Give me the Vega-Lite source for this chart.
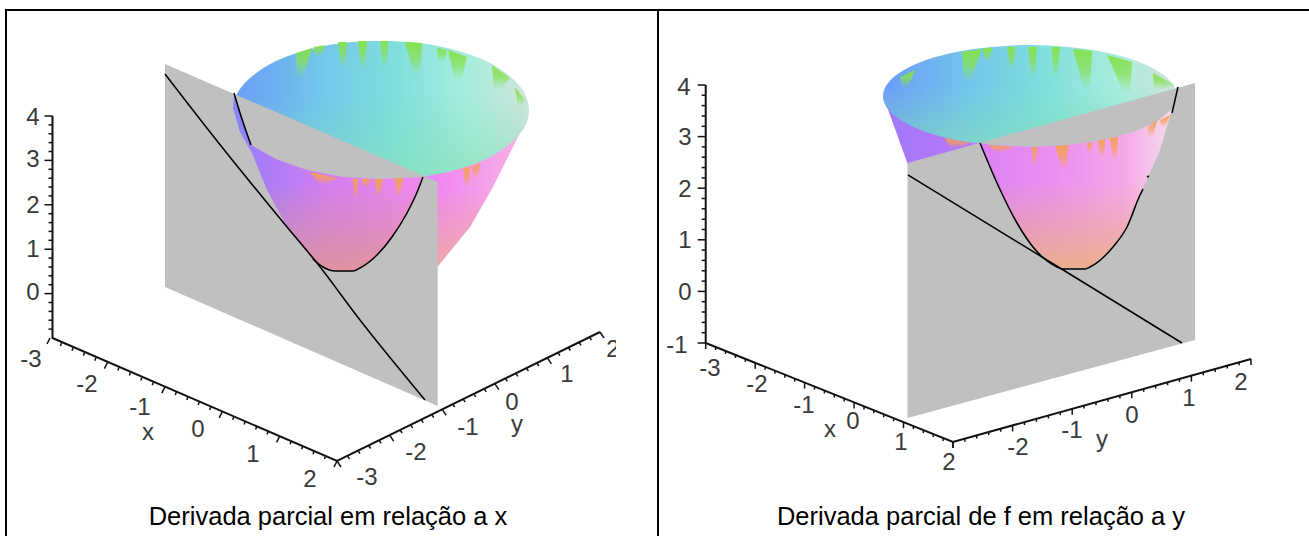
{
"$schema":"https://vega.github.io/schema/vega-lite/v6.json",
"width":1309,"height":536,"padding":0,"autosize":{"type":"none"},
"background":"#ffffff",
"config":{"view":{"stroke":null}},
"datasets":{
"wall":[
{"p":"L","x":233,"y":108},{"p":"L","x":240,"y":132},{"p":"L","x":252,"y":153},{"p":"L","x":267,"y":190},{"p":"L","x":287,"y":227},{"p":"L","x":313,"y":260},{"p":"L","x":335,"y":271},{"p":"L","x":353,"y":271},{"p":"L","x":438,"y":266},{"p":"L","x":470,"y":227},{"p":"L","x":493,"y":187},{"p":"L","x":520,"y":133},{"p":"L","x":529,"y":110},
{"p":"R","x":883,"y":96},{"p":"R","x":890,"y":115},{"p":"R","x":908,"y":165},{"p":"R","x":1033,"y":247},{"p":"R","x":1060,"y":269},{"p":"R","x":1090,"y":267},{"p":"R","x":1113,"y":247},{"p":"R","x":1127,"y":227},{"p":"R","x":1148,"y":177},{"p":"R","x":1172,"y":113},{"p":"R","x":1177,"y":96}
],
"rim":[
{"p":"L","x":529,"y":110},{"p":"L","x":524,"y":128},{"p":"L","x":509,"y":144.5},{"p":"L","x":486,"y":159},{"p":"L","x":455,"y":170},{"p":"L","x":419,"y":177},{"p":"L","x":381,"y":179},{"p":"L","x":343,"y":177},{"p":"L","x":307,"y":170},{"p":"L","x":276,"y":159},{"p":"L","x":253,"y":144.5},{"p":"L","x":238,"y":128},{"p":"L","x":233,"y":110},{"p":"L","x":238,"y":92},{"p":"L","x":253,"y":75.5},{"p":"L","x":276,"y":61},{"p":"L","x":307,"y":50},{"p":"L","x":343,"y":43},{"p":"L","x":381,"y":41},{"p":"L","x":419,"y":43},{"p":"L","x":455,"y":50},{"p":"L","x":486,"y":61},{"p":"L","x":509,"y":75.5},{"p":"L","x":524,"y":92},
{"p":"R","x":1177,"y":96},{"p":"R","x":1172,"y":109},{"p":"R","x":1157,"y":121.5},{"p":"R","x":1134,"y":132},{"p":"R","x":1103.5,"y":140},{"p":"R","x":1068,"y":145},{"p":"R","x":1030,"y":147},{"p":"R","x":992,"y":145},{"p":"R","x":956.5,"y":140},{"p":"R","x":926,"y":132},{"p":"R","x":903,"y":121.5},{"p":"R","x":888,"y":109},{"p":"R","x":883,"y":96},{"p":"R","x":888,"y":83},{"p":"R","x":903,"y":70.5},{"p":"R","x":926,"y":60},{"p":"R","x":956.5,"y":52},{"p":"R","x":992,"y":47},{"p":"R","x":1030,"y":45},{"p":"R","x":1068,"y":47},{"p":"R","x":1103.5,"y":52},{"p":"R","x":1134,"y":60},{"p":"R","x":1157,"y":70.5},{"p":"R","x":1172,"y":83}
],
"green":[
{"p":"a","x":296,"y":53},{"p":"a","x":312,"y":48},{"p":"a","x":303,"y":78},{"p":"a","x":297,"y":78},
{"p":"b","x":313,"y":47},{"p":"b","x":325,"y":45},{"p":"b","x":321,"y":57},{"p":"b","x":315,"y":57},
{"p":"c","x":338,"y":42},{"p":"c","x":347,"y":42},{"p":"c","x":345,"y":67},{"p":"c","x":341,"y":67},
{"p":"d","x":358,"y":41},{"p":"d","x":367,"y":41},{"p":"d","x":365,"y":70},{"p":"d","x":361,"y":70},
{"p":"e","x":380,"y":41},{"p":"e","x":388,"y":41},{"p":"e","x":387,"y":67},{"p":"e","x":383,"y":67},
{"p":"f","x":405,"y":42},{"p":"f","x":422,"y":43},{"p":"f","x":420,"y":75},{"p":"f","x":414,"y":75},
{"p":"g","x":437,"y":48},{"p":"g","x":447,"y":50},{"p":"g","x":445,"y":62},{"p":"g","x":439,"y":62},
{"p":"h","x":448,"y":50},{"p":"h","x":467,"y":57},{"p":"h","x":461,"y":80},{"p":"h","x":455,"y":80},
{"p":"i","x":492,"y":65},{"p":"i","x":510,"y":78},{"p":"i","x":500,"y":90},{"p":"i","x":494,"y":90},
{"p":"j","x":515,"y":87},{"p":"j","x":525,"y":100},{"p":"j","x":522,"y":107},{"p":"j","x":518,"y":107},
{"p":"k","x":900,"y":77},{"p":"k","x":915,"y":70},{"p":"k","x":908,"y":88},{"p":"k","x":902,"y":88},
{"p":"l","x":962,"y":52},{"p":"l","x":982,"y":49},{"p":"l","x":970,"y":82},{"p":"l","x":964,"y":82},
{"p":"m","x":983,"y":48},{"p":"m","x":992,"y":48},{"p":"m","x":989,"y":62},{"p":"m","x":985,"y":62},
{"p":"n","x":1007,"y":47},{"p":"n","x":1015,"y":47},{"p":"n","x":1014,"y":70},{"p":"n","x":1010,"y":70},
{"p":"o","x":1028,"y":47},{"p":"o","x":1037,"y":47},{"p":"o","x":1035,"y":77},{"p":"o","x":1031,"y":77},
{"p":"q","x":1052,"y":47},{"p":"q","x":1060,"y":47},{"p":"q","x":1057,"y":78},{"p":"q","x":1053,"y":78},
{"p":"r","x":1073,"y":49},{"p":"r","x":1092,"y":51},{"p":"r","x":1090,"y":90},{"p":"r","x":1084,"y":90},
{"p":"s","x":1107,"y":55},{"p":"s","x":1132,"y":62},{"p":"s","x":1130,"y":93},{"p":"s","x":1124,"y":93},
{"p":"t","x":1153,"y":73},{"p":"t","x":1175,"y":85},{"p":"t","x":1160,"y":90},{"p":"t","x":1154,"y":90}
],
"plane":[
{"p":"L","x":165,"y":64},{"p":"L","x":437.7,"y":182},{"p":"L","x":437.7,"y":406},{"p":"L","x":165,"y":287},
{"p":"R","x":907.5,"y":163},{"p":"R","x":1195,"y":83},{"p":"R","x":1195,"y":340},{"p":"R","x":907.5,"y":418}
],
"frontL":[
{"x":423,"y":177},{"x":418,"y":190},{"x":407,"y":213},{"x":392,"y":237},{"x":377,"y":255},{"x":360,"y":268},{"x":353,"y":271},{"x":335,"y":271},{"x":323,"y":267},{"x":313,"y":260},{"x":287,"y":227},{"x":267,"y":190},{"x":252,"y":153},{"x":240,"y":132},{"x":233,"y":108},{"x":234,"y":93},{"x":251,"y":145},{"x":276,"y":159},{"x":307,"y":170},{"x":343,"y":177},{"x":381,"y":179}
],
"frontR":[
{"x":980,"y":143},{"x":992,"y":145},{"x":1030,"y":147},{"x":1068,"y":145},{"x":1103.5,"y":140},{"x":1134,"y":132},{"x":1157,"y":121.5},{"x":1172,"y":109},{"x":1160,"y":150},{"x":1148,"y":177},{"x":1140,"y":195},{"x":1127,"y":227},{"x":1113,"y":247},{"x":1090,"y":267},{"x":1060,"y":269},{"x":1057,"y":267},{"x":1033,"y":247},{"x":1017,"y":223},{"x":997,"y":183}
],
"orange":[
{"p":"a","x":310,"y":172},{"p":"a","x":338,"y":178},{"p":"a","x":326,"y":185},{"p":"a","x":320,"y":185},
{"p":"b","x":353,"y":179},{"p":"b","x":358,"y":179},{"p":"b","x":357,"y":200},{"p":"b","x":354,"y":200},
{"p":"c","x":362,"y":179},{"p":"c","x":370,"y":179},{"p":"c","x":368,"y":187},{"p":"c","x":363,"y":187},
{"p":"d","x":375,"y":179},{"p":"d","x":383,"y":179},{"p":"d","x":380,"y":197},{"p":"d","x":376,"y":197},
{"p":"e","x":395,"y":178},{"p":"e","x":403,"y":178},{"p":"e","x":400,"y":197},{"p":"e","x":396,"y":197},
{"p":"f","x":463,"y":168},{"p":"f","x":470,"y":167},{"p":"f","x":469,"y":187},{"p":"f","x":465,"y":187},
{"p":"g","x":472,"y":167},{"p":"g","x":480,"y":163},{"p":"g","x":478,"y":178},{"p":"g","x":473,"y":178},
{"p":"h","x":945,"y":138},{"p":"h","x":970,"y":143},{"p":"h","x":956,"y":148},{"p":"h","x":950,"y":148},
{"p":"i","x":988,"y":145},{"p":"i","x":1013,"y":147},{"p":"i","x":1003,"y":152},{"p":"i","x":997,"y":152},
{"p":"j","x":1032,"y":147},{"p":"j","x":1037,"y":147},{"p":"j","x":1036,"y":167},{"p":"j","x":1033,"y":167},
{"p":"k","x":1055,"y":146},{"p":"k","x":1068,"y":145},{"p":"k","x":1067,"y":170},{"p":"k","x":1062,"y":170},
{"p":"l","x":1087,"y":143},{"p":"l","x":1092,"y":143},{"p":"l","x":1091,"y":153},{"p":"l","x":1088,"y":153},
{"p":"m","x":1098,"y":141},{"p":"m","x":1105,"y":139},{"p":"m","x":1104,"y":157},{"p":"m","x":1100,"y":157},
{"p":"n","x":1110,"y":138},{"p":"n","x":1118,"y":137},{"p":"n","x":1117,"y":160},{"p":"n","x":1113,"y":160},
{"p":"o","x":1148,"y":127},{"p":"o","x":1157,"y":120},{"p":"o","x":1153,"y":137},{"p":"o","x":1148,"y":137},
{"p":"q","x":1160,"y":120},{"p":"q","x":1170,"y":115},{"p":"q","x":1165,"y":128},{"p":"q","x":1161,"y":128}
],
"curves":[
{"p":"a","x":165,"y":74},{"p":"a","x":210,"y":132},{"p":"a","x":287,"y":227},{"p":"a","x":317,"y":263},{"p":"a","x":360,"y":320},{"p":"a","x":425,"y":400},
{"p":"b","x":234,"y":93},{"p":"b","x":240,"y":113},{"p":"b","x":251,"y":145},
{"p":"c","x":423,"y":177},{"p":"c","x":418,"y":190},{"p":"c","x":407,"y":213},{"p":"c","x":392,"y":237},{"p":"c","x":377,"y":255},{"p":"c","x":360,"y":268},{"p":"c","x":353,"y":271},{"p":"c","x":335,"y":271},{"p":"c","x":323,"y":267},{"p":"c","x":313,"y":259},
{"p":"d","x":908,"y":175},{"p":"d","x":1060,"y":268},{"p":"d","x":1182,"y":343},
{"p":"e","x":980,"y":143},{"p":"e","x":997,"y":183},{"p":"e","x":1017,"y":223},{"p":"e","x":1033,"y":247},{"p":"e","x":1057,"y":267},{"p":"e","x":1062,"y":269},{"p":"e","x":1085,"y":269},{"p":"e","x":1090,"y":267},{"p":"e","x":1113,"y":247},{"p":"e","x":1127,"y":227},{"p":"e","x":1140,"y":195},{"p":"e","x":1143,"y":189},
{"p":"f","x":1147,"y":177},{"p":"f","x":1149,"y":176},
{"p":"g","x":1178,"y":87},{"p":"g","x":1172,"y":113}
],
"axes":[
{"p":"h","x":52.5,"y":116},{"p":"h","x":52.5,"y":338},{"p":"h","x":337,"y":461},{"p":"h","x":600,"y":332},
{"p":"i","x":705.7,"y":85},{"p":"i","x":705.7,"y":343},{"p":"i","x":953,"y":442},{"p":"i","x":1251,"y":359}
],
"frame":[
{"x":5,"y":10,"x2":1309,"y2":10},{"x":6,"y":9,"x2":6,"y2":536},{"x":658,"y":9,"x2":658,"y2":536}
],
"ticks":[
{"x":52.5,"y":116,"k":"a"},{"x":52.5,"y":124.9,"k":"b"},{"x":52.5,"y":133.8,"k":"b"},{"x":52.5,"y":142.6,"k":"b"},{"x":52.5,"y":151.5,"k":"b"},{"x":52.5,"y":160.4,"k":"a"},{"x":52.5,"y":169.3,"k":"b"},{"x":52.5,"y":178.2,"k":"b"},{"x":52.5,"y":187,"k":"b"},{"x":52.5,"y":195.9,"k":"b"},{"x":52.5,"y":204.8,"k":"a"},{"x":52.5,"y":213.7,"k":"b"},{"x":52.5,"y":222.6,"k":"b"},{"x":52.5,"y":231.4,"k":"b"},{"x":52.5,"y":240.3,"k":"b"},{"x":52.5,"y":249.2,"k":"a"},{"x":52.5,"y":258.1,"k":"b"},{"x":52.5,"y":267,"k":"b"},{"x":52.5,"y":275.8,"k":"b"},{"x":52.5,"y":284.7,"k":"b"},{"x":52.5,"y":293.6,"k":"a"},{"x":52.5,"y":302.5,"k":"b"},{"x":52.5,"y":311.4,"k":"b"},{"x":52.5,"y":320.2,"k":"b"},{"x":52.5,"y":329.1,"k":"b"},
{"x":50,"y":338,"k":"c"},{"x":61.5,"y":342.9,"k":"d"},{"x":73,"y":347.8,"k":"d"},{"x":84.4,"y":352.8,"k":"d"},{"x":95.9,"y":357.7,"k":"d"},{"x":107.4,"y":362.6,"k":"c"},{"x":118.9,"y":367.5,"k":"d"},{"x":130.4,"y":372.4,"k":"d"},{"x":141.8,"y":377.4,"k":"d"},{"x":153.3,"y":382.3,"k":"d"},{"x":164.8,"y":387.2,"k":"c"},{"x":176.3,"y":392.1,"k":"d"},{"x":187.8,"y":397,"k":"d"},{"x":199.2,"y":402,"k":"d"},{"x":210.7,"y":406.9,"k":"d"},{"x":222.2,"y":411.8,"k":"c"},{"x":233.7,"y":416.7,"k":"d"},{"x":245.2,"y":421.6,"k":"d"},{"x":256.6,"y":426.6,"k":"d"},{"x":268.1,"y":431.5,"k":"d"},{"x":279.6,"y":436.4,"k":"c"},{"x":291.1,"y":441.3,"k":"d"},{"x":302.6,"y":446.2,"k":"d"},{"x":314,"y":451.2,"k":"d"},{"x":325.5,"y":456.1,"k":"d"},{"x":337,"y":461,"k":"c"},
{"x":337,"y":461,"k":"e"},{"x":347.5,"y":455.8,"k":"f"},{"x":358,"y":450.7,"k":"f"},{"x":368.6,"y":445.5,"k":"f"},{"x":379.1,"y":440.4,"k":"f"},{"x":389.6,"y":435.2,"k":"e"},{"x":400.1,"y":430,"k":"f"},{"x":410.6,"y":424.9,"k":"f"},{"x":421.2,"y":419.7,"k":"f"},{"x":431.7,"y":414.6,"k":"f"},{"x":442.2,"y":409.4,"k":"e"},{"x":452.7,"y":404.2,"k":"f"},{"x":463.2,"y":399.1,"k":"f"},{"x":473.8,"y":393.9,"k":"f"},{"x":484.3,"y":388.8,"k":"f"},{"x":494.8,"y":383.6,"k":"e"},{"x":505.3,"y":378.4,"k":"f"},{"x":515.8,"y":373.3,"k":"f"},{"x":526.4,"y":368.1,"k":"f"},{"x":536.9,"y":363,"k":"f"},{"x":547.4,"y":357.8,"k":"e"},{"x":557.9,"y":352.6,"k":"f"},{"x":568.4,"y":347.5,"k":"f"},{"x":579,"y":342.3,"k":"f"},{"x":589.5,"y":337.2,"k":"f"},{"x":600,"y":332,"k":"e"},
{"x":705.7,"y":85,"k":"a"},{"x":705.7,"y":95.3,"k":"b"},{"x":705.7,"y":105.6,"k":"b"},{"x":705.7,"y":116,"k":"b"},{"x":705.7,"y":126.3,"k":"b"},{"x":705.7,"y":136.6,"k":"a"},{"x":705.7,"y":146.9,"k":"b"},{"x":705.7,"y":157.2,"k":"b"},{"x":705.7,"y":167.6,"k":"b"},{"x":705.7,"y":177.9,"k":"b"},{"x":705.7,"y":188.2,"k":"a"},{"x":705.7,"y":198.5,"k":"b"},{"x":705.7,"y":208.8,"k":"b"},{"x":705.7,"y":219.2,"k":"b"},{"x":705.7,"y":229.5,"k":"b"},{"x":705.7,"y":239.8,"k":"a"},{"x":705.7,"y":250.1,"k":"b"},{"x":705.7,"y":260.4,"k":"b"},{"x":705.7,"y":270.8,"k":"b"},{"x":705.7,"y":281.1,"k":"b"},{"x":705.7,"y":291.4,"k":"a"},{"x":705.7,"y":301.7,"k":"b"},{"x":705.7,"y":312,"k":"b"},{"x":705.7,"y":322.4,"k":"b"},{"x":705.7,"y":332.7,"k":"b"},{"x":705.7,"y":343,"k":"a"},
{"x":705.7,"y":343,"k":"g"},{"x":715.6,"y":347,"k":"h"},{"x":725.5,"y":350.9,"k":"h"},{"x":735.4,"y":354.9,"k":"h"},{"x":745.3,"y":358.8,"k":"h"},{"x":755.2,"y":362.8,"k":"g"},{"x":765,"y":366.8,"k":"h"},{"x":774.9,"y":370.7,"k":"h"},{"x":784.8,"y":374.7,"k":"h"},{"x":794.7,"y":378.6,"k":"h"},{"x":804.6,"y":382.6,"k":"g"},{"x":814.5,"y":386.6,"k":"h"},{"x":824.4,"y":390.5,"k":"h"},{"x":834.3,"y":394.5,"k":"h"},{"x":844.2,"y":398.4,"k":"h"},{"x":854.1,"y":402.4,"k":"g"},{"x":864,"y":406.4,"k":"h"},{"x":873.8,"y":410.3,"k":"h"},{"x":883.7,"y":414.3,"k":"h"},{"x":893.6,"y":418.2,"k":"h"},{"x":903.5,"y":422.2,"k":"g"},{"x":913.4,"y":426.2,"k":"h"},{"x":923.3,"y":430.1,"k":"h"},{"x":933.2,"y":434.1,"k":"h"},{"x":943.1,"y":438,"k":"h"},{"x":953,"y":442,"k":"g"},
{"x":953,"y":442,"k":"g"},{"x":964.9,"y":438.7,"k":"h"},{"x":976.8,"y":435.4,"k":"h"},{"x":988.8,"y":432,"k":"h"},{"x":1000.7,"y":428.7,"k":"h"},{"x":1012.6,"y":425.4,"k":"g"},{"x":1024.5,"y":422.1,"k":"h"},{"x":1036.4,"y":418.8,"k":"h"},{"x":1048.4,"y":415.4,"k":"h"},{"x":1060.3,"y":412.1,"k":"h"},{"x":1072.2,"y":408.8,"k":"g"},{"x":1084.1,"y":405.5,"k":"h"},{"x":1096,"y":402.2,"k":"h"},{"x":1108,"y":398.8,"k":"h"},{"x":1119.9,"y":395.5,"k":"h"},{"x":1131.8,"y":392.2,"k":"g"},{"x":1143.7,"y":388.9,"k":"h"},{"x":1155.6,"y":385.6,"k":"h"},{"x":1167.6,"y":382.2,"k":"h"},{"x":1179.5,"y":378.9,"k":"h"},{"x":1191.4,"y":375.6,"k":"g"},{"x":1203.3,"y":372.3,"k":"h"},{"x":1215.2,"y":369,"k":"h"},{"x":1227.2,"y":365.6,"k":"h"},{"x":1239.1,"y":362.3,"k":"h"},{"x":1251,"y":359,"k":"g"}
],
"labels":[
{"x":33,"y":118,"t":"4"},{"x":33,"y":160,"t":"3"},{"x":33,"y":206,"t":"2"},{"x":33,"y":250,"t":"1"},{"x":33,"y":293,"t":"0"},
{"x":31,"y":360,"t":"-3"},{"x":87,"y":385,"t":"-2"},{"x":140,"y":408,"t":"-1"},{"x":148,"y":433,"t":"x"},{"x":198,"y":430,"t":"0"},{"x":253,"y":455,"t":"1"},{"x":310,"y":480,"t":"2"},
{"x":367,"y":478,"t":"-3"},{"x":416,"y":453,"t":"-2"},{"x":468,"y":428,"t":"-1"},{"x":517,"y":425,"t":"y"},{"x":512,"y":403,"t":"0"},{"x":567,"y":375,"t":"1"},{"x":613,"y":350,"t":"2"},
{"x":684,"y":88,"t":"4"},{"x":685,"y":138,"t":"3"},{"x":685,"y":190,"t":"2"},{"x":685,"y":241,"t":"1"},{"x":685,"y":293,"t":"0"},{"x":677,"y":346,"t":"-1"},
{"x":710,"y":369,"t":"-3"},{"x":757,"y":385,"t":"-2"},{"x":804,"y":406,"t":"-1"},{"x":830,"y":430,"t":"x"},{"x":853,"y":422,"t":"0"},{"x":901,"y":443,"t":"1"},{"x":949,"y":463,"t":"2"},
{"x":1018,"y":448,"t":"-2"},{"x":1072,"y":431,"t":"-1"},{"x":1102,"y":440,"t":"y"},{"x":1132,"y":416,"t":"0"},{"x":1189,"y":399,"t":"1"},{"x":1241,"y":383,"t":"2"}
],
"captions":[
{"x":328,"y":517,"t":"Derivada parcial em relação a x"},{"x":981,"y":517,"t":"Derivada parcial de f em relação a y"}
],
"mask":[
{"p":"m","x":616,"y":330},{"p":"m","x":650,"y":330},{"p":"m","x":650,"y":372},{"p":"m","x":616,"y":372}
]
},
"encoding":{
"x":{"field":"x","type":"quantitative","axis":null,"scale":{"domain":[0,1309],"nice":false,"zero":false}},
"y":{"field":"y","type":"quantitative","axis":null,"scale":{"domain":[536,0],"nice":false,"zero":false}}
},
"layer":[
{"data":{"name":"wall"},"mark":{"type":"line","order":false,"interpolate":"linear-closed","strokeWidth":0,"fill":{"gradient":"linear","x1":0,"y1":0,"x2":1,"y2":0,"stops":[{"offset":0,"color":"#a078fa"},{"offset":0.3,"color":"#b878f8"},{"offset":0.7,"color":"#f088f0"},{"offset":1,"color":"#f8b8e4"}]}},"encoding":{"detail":{"field":"p"}}},
{"data":{"name":"wall"},"mark":{"type":"line","order":false,"interpolate":"linear-closed","strokeWidth":0,"fill":{"gradient":"linear","x1":0,"y1":0,"x2":0,"y2":1,"stops":[{"offset":0.5,"color":"rgba(240,170,150,0)"},{"offset":1,"color":"rgba(240,175,150,0.9)"}]}},"encoding":{"detail":{"field":"p"}}},
{"data":{"name":"rim"},"mark":{"type":"line","order":false,"interpolate":"cardinal-closed","strokeWidth":0,"fill":{"gradient":"linear","x1":0,"y1":0,"x2":1,"y2":0,"stops":[{"offset":0,"color":"#6c9cf8"},{"offset":0.25,"color":"#70c0ec"},{"offset":0.55,"color":"#80e0dc"},{"offset":0.8,"color":"#a8ecdc"},{"offset":1,"color":"#d0e4dc"}]}},"encoding":{"detail":{"field":"p"}}},
{"data":{"name":"rim"},"mark":{"type":"line","order":false,"interpolate":"cardinal-closed","strokeWidth":0,"fill":{"gradient":"linear","x1":0,"y1":0,"x2":0,"y2":1,"stops":[{"offset":0.4,"color":"rgba(125,220,180,0)"},{"offset":1,"color":"rgba(135,225,180,0.6)"}]}},"encoding":{"detail":{"field":"p"}}},
{"data":{"name":"green"},"mark":{"type":"line","order":false,"interpolate":"linear-closed","strokeWidth":0,"fill":{"gradient":"linear","x1":0,"y1":0,"x2":0,"y2":1,"stops":[{"offset":0,"color":"rgba(135,225,70,0.95)"},{"offset":0.5,"color":"rgba(135,225,80,0.7)"},{"offset":1,"color":"rgba(135,225,90,0)"}]}},"encoding":{"detail":{"field":"p"}}},
{"data":{"name":"plane"},"mark":{"type":"line","order":false,"interpolate":"linear-closed","strokeWidth":0,"fill":"#c0c0c0"},"encoding":{"detail":{"field":"p"}}},
{"data":{"name":"frontL"},"mark":{"type":"line","order":false,"interpolate":"linear-closed","strokeWidth":0,"fill":{"gradient":"linear","x1":0,"y1":0,"x2":1,"y2":0,"stops":[{"offset":0,"color":"#8088f8"},{"offset":0.15,"color":"#a87cf8"},{"offset":0.5,"color":"#d47ef2"},{"offset":1,"color":"#f088ee"}]}}},
{"data":{"name":"frontL"},"mark":{"type":"line","order":false,"interpolate":"linear-closed","strokeWidth":0,"fill":{"gradient":"linear","x1":0,"y1":0,"x2":0,"y2":1,"stops":[{"offset":0.5,"color":"rgba(215,150,150,0)"},{"offset":1,"color":"rgba(225,150,150,0.9)"}]}}},
{"data":{"name":"frontR"},"mark":{"type":"line","order":false,"interpolate":"linear-closed","strokeWidth":0,"fill":{"gradient":"linear","x1":0,"y1":0,"x2":1,"y2":0,"stops":[{"offset":0,"color":"#dc80f2"},{"offset":0.4,"color":"#ec90f0"},{"offset":0.75,"color":"#f4a8ea"},{"offset":1,"color":"#f8dce8"}]}}},
{"data":{"name":"frontR"},"mark":{"type":"line","order":false,"interpolate":"linear-closed","strokeWidth":0,"fill":{"gradient":"linear","x1":0,"y1":0,"x2":0,"y2":1,"stops":[{"offset":0.45,"color":"rgba(235,175,140,0)"},{"offset":1,"color":"rgba(235,175,135,0.95)"}]}}},
{"data":{"name":"orange"},"mark":{"type":"line","order":false,"interpolate":"linear-closed","strokeWidth":0,"fill":{"gradient":"linear","x1":0,"y1":0,"x2":0,"y2":1,"stops":[{"offset":0,"color":"rgba(245,160,80,0.95)"},{"offset":0.5,"color":"rgba(245,160,90,0.7)"},{"offset":1,"color":"rgba(245,160,100,0)"}]}},"encoding":{"detail":{"field":"p"}}},
{"data":{"name":"curves"},"mark":{"type":"line","order":false,"interpolate":"monotone","color":"#000000","strokeWidth":1.5},"encoding":{"detail":{"field":"p"}}},
{"data":{"name":"axes"},"mark":{"type":"line","order":false,"color":"#111111","strokeWidth":2},"encoding":{"detail":{"field":"p"}}},
{"data":{"name":"ticks"},"mark":{"type":"point","filled":false,"color":"#111111","strokeWidth":1.5,"opacity":1,"size":4},"encoding":{"shape":{"field":"k","type":"nominal","legend":null,"scale":{"domain":["a","b","c","d","e","f","g","h"],"range":["M0,0L-8,0","M0,0L-4,0","M0,0L-3,6","M0,0L-1,3","M0,0L4,6","M0,0L2,3","M0,0L0,6","M0,0L0,3"]}}}},
{"data":{"name":"labels"},"mark":{"type":"text","font":"Liberation Sans","fontSize":24,"color":"#3a3a3a","align":"center","baseline":"middle"},"encoding":{"text":{"field":"t","type":"nominal"}}},
{"data":{"name":"mask"},"mark":{"type":"line","order":false,"interpolate":"linear-closed","strokeWidth":0,"fill":"#ffffff"},"encoding":{"detail":{"field":"p"}}},
{"data":{"name":"captions"},"mark":{"type":"text","font":"Liberation Sans","fontSize":25.5,"color":"#000000","align":"center","baseline":"middle"},"encoding":{"text":{"field":"t","type":"nominal"}}},
{"data":{"name":"frame"},"mark":{"type":"rule","color":"#000000","strokeWidth":2},"encoding":{"x2":{"field":"x2"},"y2":{"field":"y2"}}}
]
}
